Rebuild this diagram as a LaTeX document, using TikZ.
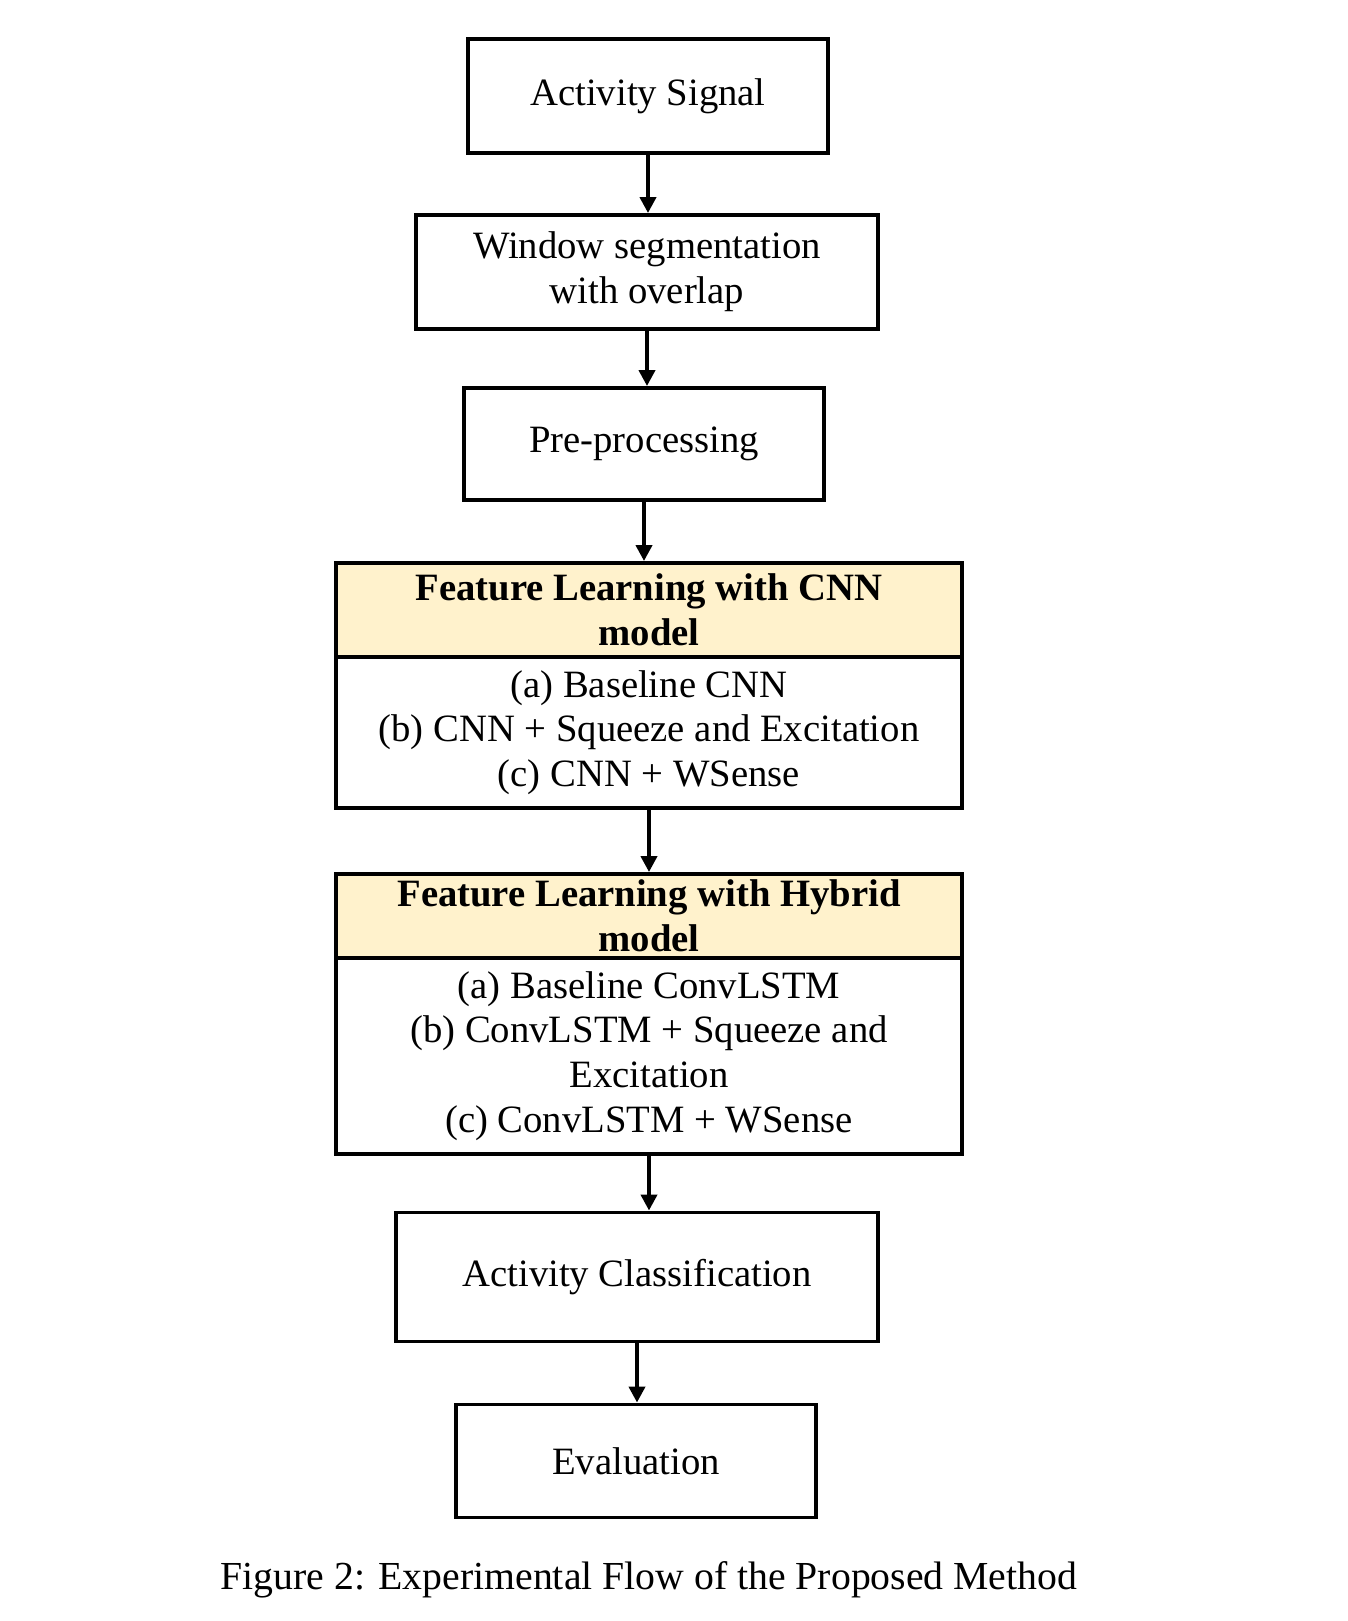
\documentclass[tikz,border=0pt]{standalone}
\usepackage{fontspec}
\setmainfont{Liberation Serif}
\usetikzlibrary{arrows.meta}
\definecolor{headfill}{HTML}{FFF2CC}
\tikzset{
  stepbox/.style={draw,line width=1.1pt,align=center,inner sep=0pt,
    font=\fontsize{11}{12.7}\selectfont},
  headbox/.style={stepbox,fill=headfill,font=\fontsize{11}{12.7}\selectfont\bfseries},
  flow/.style={draw,line width=1.1pt,-{Triangle[length=4.5pt,width=4.5pt]}}
}
\begin{document}
\begin{tikzpicture}[x=0.01cm,y=-0.01cm]
\useasboundingbox (0,0) rectangle (1347,1621);

\node[stepbox,minimum width=3.60cm,minimum height=1.14cm] (signal) at (648,96) {Activity Signal};
\node[stepbox,minimum width=4.61cm,minimum height=1.14cm] (window) at (647,272) {Window segmentation\\with overlap};
\node[stepbox,minimum width=3.59cm,minimum height=1.12cm] (prep) at (644,444) {Pre-processing};

\node[headbox,minimum width=6.26cm,minimum height=0.94cm] (cnnhead) at (649,610) {Feature Learning with CNN\\model};
\node[stepbox,minimum width=6.26cm,minimum height=1.51cm] (cnnbody) at (649,732.5) {(a) Baseline CNN\\(b) CNN + Squeeze and Excitation\\(c) CNN + WSense};

\node[headbox,minimum width=6.26cm,minimum height=0.84cm] (hybhead) at (649,916) {Feature Learning with Hybrid\\model};
\node[stepbox,minimum width=6.26cm,minimum height=1.96cm] (hybbody) at (649,1056) {(a) Baseline ConvLSTM\\(b) ConvLSTM + Squeeze and\\Excitation\\(c) ConvLSTM + WSense};

\node[stepbox,minimum width=4.81cm,minimum height=1.29cm] (classify) at (637,1277) {Activity Classification};
\node[stepbox,minimum width=3.59cm,minimum height=1.13cm] (evaluation) at (636,1461) {Evaluation};

\node[font=\fontsize{11.3}{13}\selectfont] (caption) at (649,1580) {Figure 2: Experimental Flow of the Proposed Method};

\path[flow] (signal.south) -- (signal.south |- window.north);
\path[flow] (window.south) -- (window.south |- prep.north);
\path[flow] (prep.south) -- (prep.south |- cnnhead.north);
\path[flow] (cnnbody.south) -- (cnnbody.south |- hybhead.north);
\path[flow] (hybbody.south) -- (hybbody.south |- classify.north);
\path[flow] (classify.south) -- (classify.south |- evaluation.north);
\end{tikzpicture}
\end{document}
